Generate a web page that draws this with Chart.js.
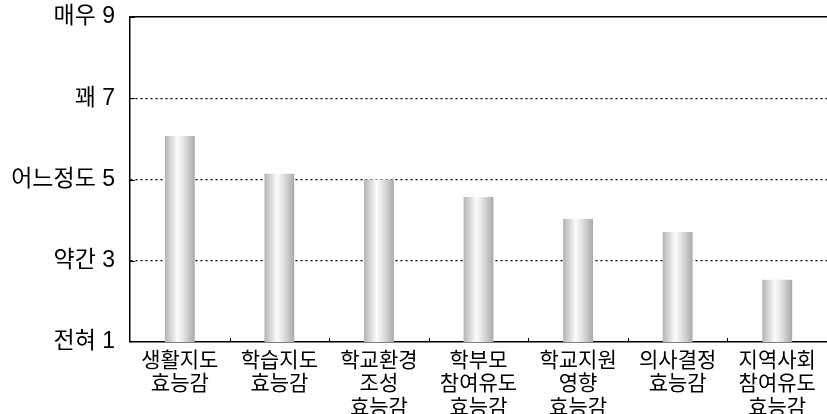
<!DOCTYPE html>
<html>
<head>
<meta charset="utf-8">
<script src="https://cdn.jsdelivr.net/npm/chart.js@4"></script>
<style>
    html, body { margin: 0; padding: 0; background: white; }
    #wrap { width: 827px; height: 414px; }
</style>
</head>
<body>
<div id="wrap"><canvas id="hyoChart"></canvas></div>
<script>
var categories = [
    ['생활지도', '효능감'],
    ['학습지도', '효능감'],
    ['학교환경', '조성', '효능감'],
    ['학부모', '참여유도', '효능감'],
    ['학교지원', '영향', '효능감'],
    ['의사결정', '효능감'],
    ['지역사회', '참여유도', '효능감']
];
var scores = [6.07, 5.14, 5.0, 4.57, 4.03, 3.71, 2.53];
var tickValues = [1, 3, 5, 7, 9];
var tickNames = { 1: '전혀', 3: '약간', 5: '어느정도', 7: '꽤', 9: '매우' };

var fontFamily = "'Liberation Sans', 'Noto Sans CJK KR', sans-serif";
var barShare = 0.3;

function barGradient(context) {
    var chart = context.chart;
    var xScale = chart.scales.x;
    if (!chart.chartArea || !xScale) {
        return '#cccccc';
    }
    var center = xScale.getPixelForValue(context.dataIndex);
    var half = (xScale.width / categories.length) * barShare / 2;
    var g = chart.ctx.createLinearGradient(center - half, 0, center + half, 0);
    g.addColorStop(0, '#b4b4b4');
    g.addColorStop(0.42, '#fbfbfb');
    g.addColorStop(0.62, '#e4e4e4');
    g.addColorStop(1, '#a9a9a9');
    return g;
}

// small tick marks drawn inside the plot, like the original
var innerTicks = {
    id: 'innerTicks',
    afterDraw: function (chart) {
        var ctx = chart.ctx;
        var x = chart.scales.x, y = chart.scales.y;
        ctx.save();
        ctx.strokeStyle = '#000';
        ctx.lineWidth = 1;
        ctx.beginPath();
        for (var i = 1; i < categories.length; i++) {
            var px = Math.round(x.getPixelForValue(i - 0.5)) + 0.5;
            ctx.moveTo(px, y.bottom);
            ctx.lineTo(px, y.bottom - 4);
        }
        tickValues.forEach(function (v) {
            if (v === 1) return;
            var py = Math.round(y.getPixelForValue(v)) + 0.5;
            ctx.moveTo(x.left, py);
            ctx.lineTo(x.left + 5, py);
        });
        ctx.stroke();
        ctx.restore();
    }
};

var hyoChart = new Chart(document.getElementById('hyoChart').getContext('2d'), {
    type: 'bar',
    data: {
        labels: categories,
        datasets: [
            {
                data: scores,
                backgroundColor: barGradient,
                borderWidth: 0,
                categoryPercentage: 1,
                barPercentage: barShare
            }
        ]
    },
    options: {
        responsive: true,
        maintainAspectRatio: false,
        animation: false,
        layout: {
            padding: { left: 0, right: 0, top: 17, bottom: 0 }
        },
        scales: {
            x: {
                grid: {
                    display: false,
                    drawTicks: false,
                    tickLength: 0
                },
                border: {
                    display: true,
                    color: '#000',
                    width: 1.5
                },
                ticks: {
                    color: '#000',
                    padding: 7,
                    maxRotation: 0,
                    autoSkip: false,
                    font: { family: fontFamily, size: 21, lineHeight: 1.12 }
                },
                afterFit: function (scale) {
                    scale.height = 72;
                    scale.paddingLeft = 0;
                    scale.paddingRight = 0;
                }
            },
            y: {
                min: 1,
                max: 9,
                afterBuildTicks: function (scale) {
                    scale.ticks = tickValues.map(function (v) { return { value: v }; });
                },
                grid: {
                    drawTicks: false,
                    color: function (c) {
                        return c.tick && c.tick.value === 1 ? 'rgba(0,0,0,0)' : '#000';
                    },
                    lineWidth: function (c) {
                        return c.tick && c.tick.value === 9 ? 1.5 : 1.3;
                    }
                },
                border: {
                    display: true,
                    color: '#000',
                    width: 1.5,
                    dash: function (c) {
                        return c.tick && c.tick.value === 9 ? [] : [2, 3];
                    }
                },
                ticks: {
                    color: '#000',
                    padding: 15,
                    font: { family: fontFamily, size: 23 },
                    callback: function (value) {
                        return tickNames[value] + ' ' + value;
                    }
                },
                afterFit: function (scale) {
                    scale.width = 130;
                    scale.paddingTop = 0;
                    scale.paddingBottom = 0;
                }
            }
        },
        plugins: {
            legend: { display: false },
            tooltip: { enabled: false }
        }
    },
    plugins: [innerTicks]
});
</script>
</body>
</html>
